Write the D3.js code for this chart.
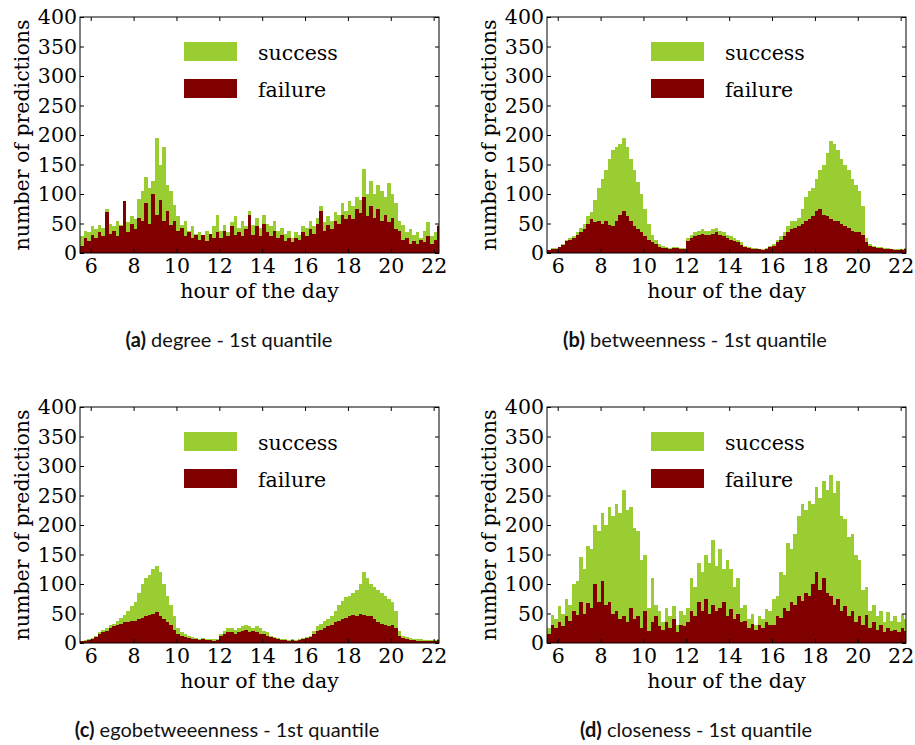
<!DOCTYPE html>
<html><head><meta charset="utf-8">
<script src="https://cdn.jsdelivr.net/npm/d3@7"></script>
<style>
body{margin:0;background:#fff}
.tick text{font-family:"DejaVu Serif",serif;font-size:20.5px;fill:#000}
</style>
</head><body><svg id="c" width="915" height="745"></svg>
<script>
// ---------- data ----------
const binStartHour = 5.5;      // first bin starts 05:30
const binMinutes = 10;         // bin width
const xDomain = [5.5, 22.25];
const yDomain = [0, 400];
const xTickValues = [6, 8, 10, 12, 14, 16, 18, 20, 22];
const yTickValues = [0, 50, 100, 150, 200, 250, 300, 350, 400];
const seriesNames = ["success", "failure"];
const xAxisLabel = "hour of the day";
const yAxisLabel = "number of predictions";
const captionTags = ["(a)", "(b)", "(c)", "(d)"];
const captionTexts = [" degree - 1st quantile", " betweenness - 1st quantile", " egobetweeenness - 1st quantile", " closeness - 1st quantile"];

// bar tops (success drawn as the full bar, failure overlaid from zero)
const degreeSuccess = [28,38,35,
 45,40,48,42,75,50,
 45,55,48,88,52,62,
 58,92,105,128,110,122,
 195,150,180,115,105,82,
 62,48,55,38,45,33,
 35,30,38,33,45,65,
 38,48,35,52,62,42,
 55,45,72,48,60,42,
 65,50,45,55,38,42,
 32,38,25,35,30,45,
 42,55,45,60,80,52,
 62,55,70,65,85,72,
 88,80,95,90,142,100,
 122,100,115,105,95,118,
 100,85,55,48,35,40,
 30,35,25,38,52,28,
 35,48];
const degreeFailure = [12,25,20,
 30,25,35,28,70,32,
 38,28,45,88,35,50,
 40,60,55,85,50,100,
 65,90,55,72,48,55,
 38,42,28,35,25,30,
 22,30,20,32,25,35,
 25,38,28,45,30,35,
 28,40,65,30,45,28,
 50,35,28,38,25,30,
 20,25,18,25,22,35,
 28,40,32,50,72,38,
 48,40,55,50,65,58,
 65,58,75,68,95,62,
 80,60,75,55,65,52,
 60,40,38,22,25,15,
 20,15,22,18,28,15,
 22,45];
const betweennessSuccess = [5,8,8,
 10,15,22,25,28,35,
 42,50,62,70,90,110,
 125,140,160,175,180,185,
 195,180,160,140,120,100,
 75,50,30,22,15,12,
 10,8,10,10,8,8,
 25,30,35,38,40,38,
 38,40,42,38,35,30,
 28,25,22,18,12,10,
 8,8,7,6,8,12,
 15,22,28,35,45,55,
 55,60,75,95,105,110,
 125,140,150,170,190,185,
 175,160,150,140,125,115,
 105,80,25,15,12,10,
 10,8,8,7,6,6,
 6,8];
const betweennessFailure = [5,7,7,
 10,14,20,22,25,30,
 35,40,50,58,52,55,
 50,55,48,45,55,65,
 72,62,55,45,40,35,
 28,22,18,15,10,8,
 8,7,8,8,7,7,
 20,25,28,30,32,30,
 30,33,35,30,28,25,
 22,20,18,14,10,8,
 7,7,6,5,7,10,
 12,18,22,28,35,40,
 42,45,50,55,58,62,
 72,75,65,62,58,55,
 55,50,45,42,38,35,
 35,30,18,12,10,8,
 8,7,7,6,5,5,
 5,7];
const egoSuccess = [4,5,6,
 8,12,18,22,25,30,
 32,38,42,48,55,62,
 70,85,100,110,115,125,
 130,120,100,80,65,45,
 25,18,15,12,10,8,
 7,8,7,6,6,6,
 15,20,25,25,22,25,
 28,30,28,25,28,25,
 20,18,12,10,8,6,
 6,5,6,5,6,8,
 10,12,20,28,32,38,
 40,45,55,65,72,78,
 80,85,90,100,120,110,
 100,95,90,85,80,75,
 70,55,20,12,10,8,
 7,6,6,5,5,5,
 5,6];
const egoFailure = [3,4,5,
 7,10,15,18,20,25,
 28,30,32,35,35,38,
 38,40,42,45,48,50,
 52,45,40,35,30,22,
 15,12,10,8,7,6,
 5,6,5,5,4,5,
 12,15,18,18,16,18,
 20,22,18,20,18,16,
 15,12,10,8,6,5,
 5,4,5,4,5,6,
 8,10,15,20,22,25,
 28,30,35,38,40,42,
 45,48,45,50,48,45,
 45,40,35,32,30,28,
 30,25,12,8,6,5,
 5,4,4,4,3,3,
 3,5];
const closenessSuccess = [25,48,40,
 62,50,75,65,100,105,
 145,125,165,160,200,190,
 220,200,230,215,235,220,
 260,225,230,195,190,140,
 150,60,110,65,55,35,
 60,45,62,30,55,48,
 60,110,95,135,120,150,
 135,175,130,160,125,140,
 125,95,110,60,65,40,
 50,30,45,40,58,55,
 75,80,120,115,170,160,
 185,215,235,225,240,235,
 265,245,275,260,285,255,
 275,215,210,180,185,150,
 140,90,95,55,65,45,
 55,35,52,38,45,35,
 50,40];
const closenessFailure = [15,30,25,
 35,28,45,38,55,48,
 70,50,68,60,100,70,
 105,65,70,50,55,40,
 45,35,60,40,45,25,
 55,20,35,45,28,22,
 35,25,40,18,30,28,
 35,55,45,70,55,75,
 50,65,55,60,70,45,
 58,40,50,35,38,25,
 32,22,30,25,35,30,
 30,45,42,60,55,70,
 65,80,72,85,80,100,
 120,90,110,85,80,65,
 75,55,62,45,55,35,
 45,30,48,25,35,22,
 30,18,25,20,22,18,
 25,20];

// ---------- layout / style ----------
const colors = {success: "#9acd32", failure: "#800000"};
const panelData = [
  {success: degreeSuccess, failure: degreeFailure},
  {success: betweennessSuccess, failure: betweennessFailure},
  {success: egoSuccess, failure: egoFailure},
  {success: closenessSuccess, failure: closenessFailure}
];
const panelBoxes = [
  {left: 80, top: 17}, {left: 547, top: 17},
  {left: 80, top: 407}, {left: 547, top: 407}
];
const captionPos = [{x: 229, y: 347}, {x: 695, y: 347}, {x: 227, y: 737}, {x: 696, y: 737}];
const W = 359, H = 236;

const svg = d3.select("#c");
svg.append("rect").attr("width", 915).attr("height", 745).attr("fill", "#fff");

panelData.forEach((pd, k) => {
  const box = panelBoxes[k];
  const g = svg.append("g").attr("transform", `translate(${box.left},${box.top})`);
  const x = d3.scaleLinear().domain(xDomain).range([0, W]);
  const y = d3.scaleLinear().domain(yDomain).range([H, 0]);
  const binW = binMinutes / 60;
  const start = i => binStartHour + i * binW;

  const cid = "clip" + k;
  g.append("clipPath").attr("id", cid).append("rect").attr("width", W).attr("height", H);
  const bars = g.append("g").attr("clip-path", `url(#${cid})`).attr("shape-rendering", "crispEdges");
  seriesNames.forEach(name => {
    bars.append("g").selectAll("rect").data(pd[name]).join("rect")
      .attr("x", (d, i) => x(start(i)))
      .attr("width", (d, i) => x(start(i) + binW) - x(start(i)))
      .attr("y", d => y(d))
      .attr("height", d => H - y(d))
      .attr("fill", colors[name]);
  });

  // axes (inward ticks on all four sides)
  const ax = (gen, tr, labels) => {
    const a = g.append("g").attr("transform", tr).call(gen);
    a.select(".domain").remove();
    a.selectAll(".tick line").attr("stroke", "#000").attr("stroke-width", 1);
    if (!labels) a.selectAll(".tick text").remove();
    return a;
  };
  ax(d3.axisBottom(x).tickValues(xTickValues).tickSize(-4).tickPadding(5), `translate(0,${H})`, true);
  ax(d3.axisTop(x).tickValues(xTickValues).tickSize(-4), `translate(0,0)`, false);
  ax(d3.axisLeft(y).tickValues(yTickValues).tickSize(-4).tickPadding(3), `translate(0,0)`, true);
  ax(d3.axisRight(y).tickValues(yTickValues).tickSize(-4), `translate(${W},0)`, false);

  g.append("rect").attr("width", W).attr("height", H)
    .attr("fill", "none").attr("stroke", "#000").attr("stroke-width", 1);

  // legend
  seriesNames.forEach((name, j) => {
    g.append("rect").attr("x", 104).attr("y", 25 + j * 37).attr("width", 53).attr("height", 19)
      .attr("fill", colors[name]);
    g.append("text").attr("x", 178).attr("y", 43 + j * 37)
      .attr("font-family", "DejaVu Serif, serif").attr("font-size", 20.5).text(name);
  });

  // axis labels
  g.append("text").attr("x", W / 2).attr("y", 281).attr("text-anchor", "middle")
    .attr("font-family", "DejaVu Serif, serif").attr("font-size", 20.5).text(xAxisLabel);
  g.append("text").attr("transform", `translate(-51,${H / 2}) rotate(-90)`).attr("text-anchor", "middle")
    .attr("font-family", "DejaVu Serif, serif").attr("font-size", 20.5).text(yAxisLabel);

  // caption
  const c = svg.append("text").attr("x", captionPos[k].x).attr("y", captionPos[k].y)
    .attr("text-anchor", "middle").attr("font-family", "Lato, sans-serif").attr("font-size", 20).attr("fill", "#111");
  c.append("tspan").attr("font-weight", "bold").text(captionTags[k]);
  c.append("tspan").text(captionTexts[k]);
});
</script>
</body></html>
